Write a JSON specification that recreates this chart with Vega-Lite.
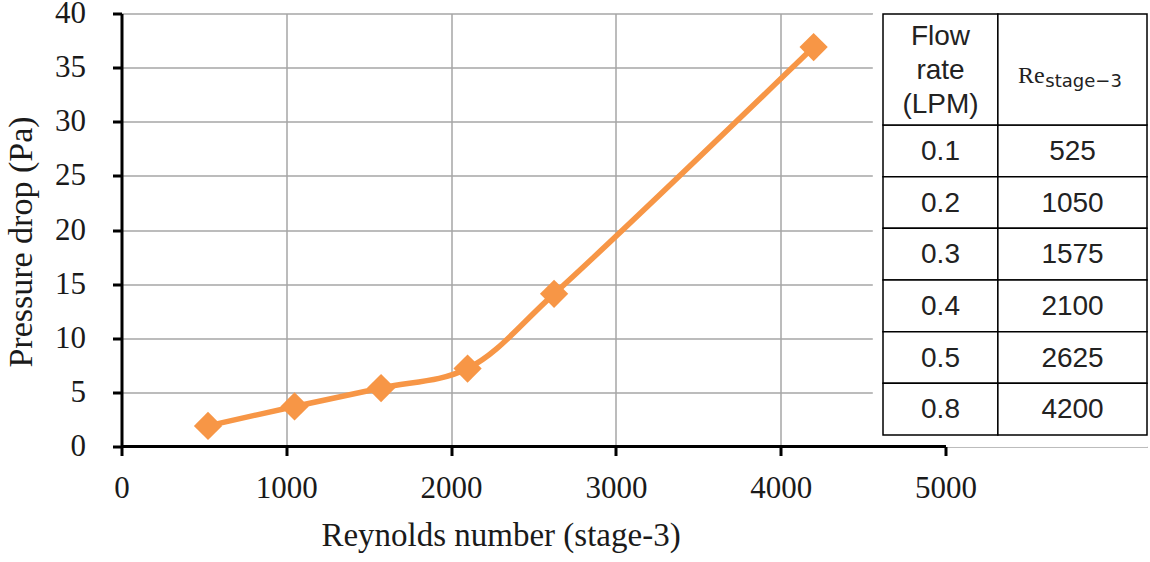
{
  "$schema": "https://vega.github.io/schema/vega-lite/v6.json",
  "width": 1026,
  "height": 433,
  "autosize": "none",
  "padding": {"left": 121.5, "top": 13.5, "right": 2.5, "bottom": 115.5},
  "background": "white",
  "config": {"view": {"stroke": null}},
  "datasets": {
    "pts": [
      {"re": 525, "dp": 1.9},
      {"re": 1050, "dp": 3.7},
      {"re": 1575, "dp": 5.4},
      {"re": 2100, "dp": 7.2},
      {"re": 2625, "dp": 14.1},
      {"re": 4200, "dp": 36.9}
    ],
    "tbl": [
      {"flow": "0.1", "re": "525"},
      {"flow": "0.2", "re": "1050"},
      {"flow": "0.3", "re": "1575"},
      {"flow": "0.4", "re": "2100"},
      {"flow": "0.5", "re": "2625"},
      {"flow": "0.8", "re": "4200"}
    ],
    "hdr": [
      {"part": "header", "flowLabel": "Flow\nrate\n(LPM)", "re": "Re", "sub": "stage−3"}
    ]
  },
  "resolve": {"scale": {"y": "independent"}},
  "layer": [
    {
      "data": {"name": "pts"},
      "layer": [
        {
          "mark": {"type": "rect", "fill": "white", "stroke": null},
          "encoding": {
            "x": {"datum": 4560, "type": "quantitative", "scale": {"domain": [0, 6226], "nice": false, "zero": false}},
            "x2": {"datum": 6226},
            "y": {"datum": 0, "type": "quantitative"},
            "y2": {"datum": 40}
          }
        },
        {
          "mark": {"type": "rule", "color": "black", "strokeWidth": 3},
          "encoding": {
            "x": {"datum": 0, "type": "quantitative"},
            "x2": {"datum": 5000},
            "y": {"datum": 0, "type": "quantitative"}
          }
        },
        {
          "mark": {"type": "line", "color": "#F79646", "strokeWidth": 5.5, "interpolate": "catmull-rom"},
          "encoding": {
            "x": {
              "field": "re", "type": "quantitative",
              "scale": {"domain": [0, 6226], "nice": false, "zero": false},
              "axis": {
                "values": [0, 1000, 2000, 3000, 4000, 5000],
                "format": "d",
                "domain": false,
                "grid": true, "gridColor": "#A6A6A6", "gridWidth": 1.5,
                "ticks": true, "tickColor": "black", "tickWidth": 3, "tickSize": 9,
                "labelFont": "Liberation Serif", "labelFontSize": 31, "labelColor": "#1a1a1a",
                "labelPadding": 18, "labelFlush": false,
                "title": "Reynolds number (stage-3)",
                "titleFont": "Liberation Serif", "titleFontSize": 33, "titleFontWeight": "normal",
                "titleColor": "#1a1a1a", "titlePadding": 16, "titleX": 379
              }
            },
            "y": {
              "field": "dp", "type": "quantitative",
              "scale": {"domain": [0, 40], "nice": false},
              "axis": {
                "values": [0, 5, 10, 15, 20, 25, 30, 35, 40],
                "domain": true, "domainColor": "black", "domainWidth": 3,
                "grid": true, "gridColor": "#A6A6A6", "gridWidth": 1.5,
                "ticks": true, "tickColor": "black", "tickWidth": 3, "tickSize": 9,
                "labelFont": "Liberation Serif", "labelFontSize": 31, "labelColor": "#1a1a1a",
                "labelPadding": 27, "labelFlush": false,
                "title": "Pressure drop (Pa)",
                "titleFont": "Liberation Serif", "titleFontSize": 34, "titleFontWeight": "normal",
                "titleColor": "#1a1a1a", "titlePadding": 16, "titleY": 228
              }
            }
          }
        },
        {
          "mark": {"type": "point", "shape": "diamond", "filled": true, "color": "#F79646", "size": 800, "opacity": 1},
          "encoding": {
            "x": {"field": "re", "type": "quantitative"},
            "y": {"field": "dp", "type": "quantitative"}
          }
        }
      ]
    },
    {
      "data": {"name": "tbl"},
      "encoding": {
        "y": {"field": "flow", "type": "nominal", "scale": {"domain": ["0.1", "0.2", "0.3", "0.4", "0.5", "0.8"], "range": [111.5, 421.5], "paddingInner": 0, "paddingOuter": 0}, "axis": null}
      },
      "layer": [
        {
          "mark": {"type": "rect", "fill": "white", "stroke": "black", "strokeWidth": 1.5},
          "encoding": {"x": {"datum": 4621, "type": "quantitative"}, "x2": {"datum": 5318}}
        },
        {
          "mark": {"type": "rect", "fill": "white", "stroke": "black", "strokeWidth": 1.5},
          "encoding": {"x": {"datum": 5318, "type": "quantitative"}, "x2": {"datum": 6223}}
        },
        {
          "mark": {"type": "text", "font": "Liberation Sans", "fontSize": 28, "color": "#222222", "align": "center", "baseline": "middle", "dy": 1},
          "encoding": {"x": {"datum": 4970, "type": "quantitative"}, "text": {"field": "flow"}}
        },
        {
          "mark": {"type": "text", "font": "Liberation Sans", "fontSize": 28, "color": "#222222", "align": "center", "baseline": "middle", "dy": 1},
          "encoding": {"x": {"datum": 5771, "type": "quantitative"}, "text": {"field": "re"}}
        }
      ]
    },
    {
      "data": {"name": "hdr"},
      "encoding": {
        "y": {"field": "part", "type": "nominal", "scale": {"domain": ["header"], "range": [0.5, 111.5], "paddingInner": 0, "paddingOuter": 0}, "axis": null}
      },
      "layer": [
        {
          "mark": {"type": "rect", "fill": "white", "stroke": "black", "strokeWidth": 1.5},
          "encoding": {"x": {"datum": 4621, "type": "quantitative"}, "x2": {"datum": 5318}}
        },
        {
          "mark": {"type": "rect", "fill": "white", "stroke": "black", "strokeWidth": 1.5},
          "encoding": {"x": {"datum": 5318, "type": "quantitative"}, "x2": {"datum": 6223}}
        },
        {
          "mark": {"type": "text", "font": "Liberation Sans", "fontSize": 28, "color": "#222222", "lineBreak": "\n", "lineHeight": 34, "align": "center", "baseline": "middle", "dy": -33},
          "encoding": {"x": {"datum": 4970, "type": "quantitative"}, "text": {"field": "flowLabel"}}
        },
        {
          "mark": {"type": "text", "font": "Liberation Serif", "fontSize": 24, "color": "#222222", "align": "left", "baseline": "alphabetic", "dy": 13},
          "encoding": {"x": {"datum": 5440, "type": "quantitative"}, "text": {"field": "re"}}
        },
        {
          "mark": {"type": "text", "font": "DejaVu Sans", "fontSize": 18, "color": "#222222", "align": "left", "baseline": "alphabetic", "dy": 17},
          "encoding": {"x": {"datum": 5606, "type": "quantitative"}, "text": {"field": "sub"}}
        }
      ]
    }
  ]
}
